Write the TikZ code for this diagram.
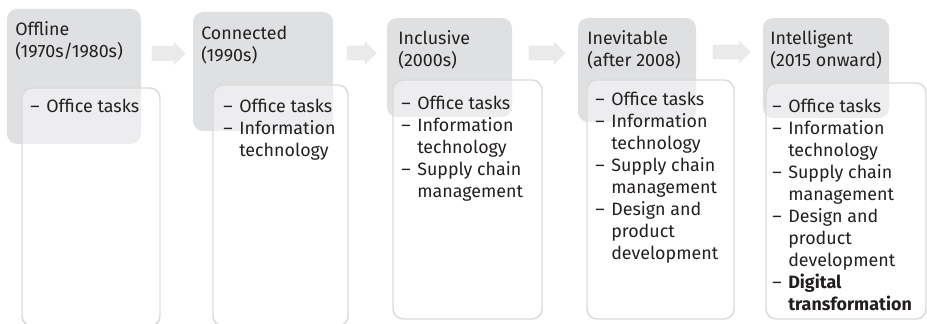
\documentclass[tikz,border=0pt]{standalone}
\usepackage{fontspec}
\setmainfont{Fira Sans}
\usetikzlibrary{shapes.arrows}
\definecolor{headgrey}{RGB}{223,224,226}
\definecolor{boxline}{RGB}{218,218,218}
\definecolor{arrowgrey}{RGB}{234,234,235}
\definecolor{ink}{RGB}{35,31,32}
\newcommand{\dsh}{\makebox[12pt][l]{--}}
\newcommand{\skipdsh}{\hspace*{12pt}}
\begin{document}
\begin{tikzpicture}[x=0.75pt,y=-0.75pt,
		head/.style={fill=headgrey, rounded corners=7.5pt, inner sep=0pt},
		list/.style={draw=boxline, line width=1.1pt, fill=white, fill opacity=0.45, rounded corners=7.5pt, inner sep=0pt},
		txt/.style={anchor=north west, inner sep=0pt, text=ink, font=\fontsize{13.4}{16.5}\selectfont},
		shift arrow/.style={single arrow, fill=arrowgrey, inner xsep=0pt, inner ysep=5.25pt, single arrow head extend=3.4pt}]
			\useasboundingbox (0,0) rectangle (927,324);
			
			% grey heads
			\node	(g1) at (74,76.5) [head, minimum width=100.5pt, minimum height=101.25pt] {};
			\node	(g2) at (263,71.5) [head, minimum width=105pt, minimum height=89.25pt] {};
			\node	(g3) at (449.5,67.5) [head, minimum width=93.75pt, minimum height=74.25pt] {};
			\node	(g4) at (637,70) [head, minimum width=88.5pt, minimum height=78pt] {};
			\node	(g5) at (826,68) [head, minimum width=94.5pt, minimum height=75pt] {};
			
			% white boxes
			\node	(w1) at (91,207) [list, minimum width=103.5pt, minimum height=178.5pt] {};
			\node	(w2) at (280.5,205.5) [list, minimum width=101.25pt, minimum height=180.75pt] {};
			\node	(w3) at (467.5,199.5) [list, minimum width=111.75pt, minimum height=179.25pt] {};
			\node	(w4) at (660.5,199.5) [list, minimum width=110.25pt, minimum height=179.25pt] {};
			\node	(w5) at (846,201) [list, minimum width=120pt, minimum height=177pt] {};
			
			% titles
			\node	(t1) at (15,20) [txt] {\begin{tabular}{@{}l@{}}Offline\\(1970s/1980s)\end{tabular}};
			\node	(t2) at (201,24) [txt] {\begin{tabular}{@{}l@{}}Connected\\(1990s)\end{tabular}};
			\node	(t3) at (398,29) [txt] {\begin{tabular}{@{}l@{}}Inclusive\\(2000s)\end{tabular}};
			\node	(t4) at (587,29) [txt] {\begin{tabular}{@{}l@{}}Inevitable\\(after 2008)\end{tabular}};
			\node	(t5) at (770,29) [txt] {\begin{tabular}{@{}l@{}}Intelligent\\(2015 onward)\end{tabular}};
			
			% lists
			\node	(l1) at (30,97) [txt] {\begin{tabular}{@{}l@{}}\dsh Office tasks\end{tabular}};
			\node	(l2) at (223,97) [txt] {\begin{tabular}{@{}l@{}}\dsh Office tasks\\\dsh Information\\\skipdsh technology\end{tabular}};
			\node	(l3) at (401,94) [txt] {\begin{tabular}{@{}l@{}}\dsh Office tasks\\\dsh Information\\\skipdsh technology\\\dsh Supply chain\\\skipdsh management\end{tabular}};
			\node	(l4) at (595,90) [txt] {\begin{tabular}{@{}l@{}}\dsh Office tasks\\\dsh Information\\\skipdsh technology\\\dsh Supply chain\\\skipdsh management\\\dsh Design and\\\skipdsh product\\\skipdsh development\end{tabular}};
			\node	(l5) at (772,97) [txt] {\begin{tabular}{@{}l@{}}\dsh Office tasks\\\dsh Information\\\skipdsh technology\\\dsh Supply chain\\\skipdsh management\\\dsh Design and\\\skipdsh product\\\skipdsh development\\\dsh \textbf{Digital}\\\skipdsh \textbf{transformation}\end{tabular}};
			
			% arrows between stages
			\node	(r1) at (165,53.5) [shift arrow, minimum height=25.5pt] {};
			\node	(r2) at (358,53) [shift arrow, minimum height=22.5pt] {};
			\node	(r3) at (543.5,53) [shift arrow, minimum height=27.75pt] {};
			\node	(r4) at (728,52) [shift arrow, minimum height=28.5pt] {};
		\end{tikzpicture}
\end{document}
